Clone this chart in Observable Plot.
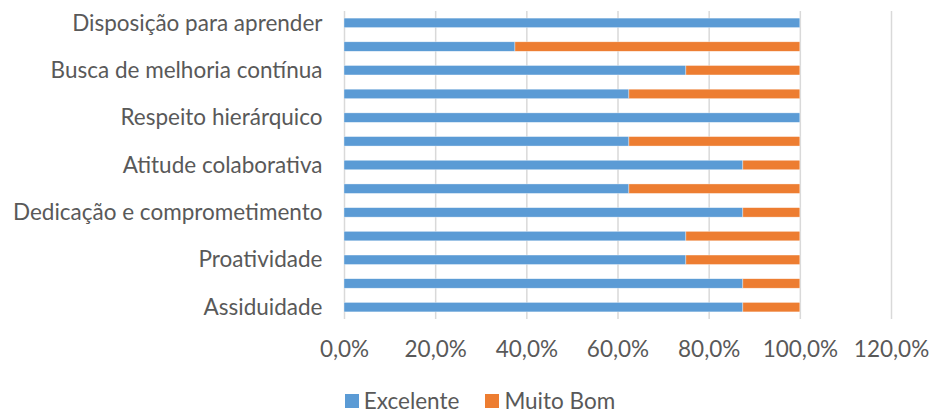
<!DOCTYPE html>
<html>
<head>
<meta charset="utf-8">
<script src="https://cdn.jsdelivr.net/npm/d3@7"></script>
<script src="https://cdn.jsdelivr.net/npm/@observablehq/plot@0.6"></script>
<style>
  html, body { margin: 0; padding: 0; background: #fff; }
  #wrap { position: relative; width: 932px; height: 414px; font-family: Lato, "Open Sans", sans-serif; color: #595959; overflow: hidden; }
  #legend { position: absolute; left: 0; width: 932px; top: 390px; display: flex; justify-content: center; align-items: center; font-size: 22.5px; line-height: 22px; padding-left: 28px; box-sizing: border-box; }
  .item { display: flex; align-items: center; margin: 0 13px; }
  .sw { width: 14px; height: 14px; margin-right: 5px; }
</style>
</head>
<body>
<div id="wrap"></div>
<script>
// Categories from bottom to top (Excel order); blank entries are rows whose labels are not shown
const categories = ["Assiduidade", "", "Proatividade", "", "Dedicação e comprometimento", "", "Atitude colaborativa", "", "Respeito hierárquico", "", "Busca de melhoria contínua", "", "Disposição para aprender"];
const excelente = [0.875, 0.875, 0.75, 0.75, 0.875, 0.625, 0.875, 0.625, 1.0, 0.625, 0.75, 0.375, 1.0];
const muitoBom  = [0.125, 0.125, 0.25, 0.25, 0.125, 0.375, 0.125, 0.375, 0.0, 0.375, 0.25, 0.625, 0.0];
const seriesNames = ["Excelente", "Muito Bom"];
const seriesColors = ["#5B9BD5", "#ED7D31"];
const xTicks = [0, 0.2, 0.4, 0.6, 0.8, 1.0, 1.2];

const rows = [];
categories.forEach((c, i) => {
  rows.push({idx: i, series: seriesNames[0], value: excelente[i]});
  rows.push({idx: i, series: seriesNames[1], value: muitoBom[i]});
});
const yDomain = d3.range(categories.length).reverse();
const fmt = d => (d * 100).toFixed(1).replace(".", ",") + "%";

const chart = Plot.plot({
  width: 932,
  height: 380,
  marginLeft: 344,
  marginRight: 41,
  marginTop: 11,
  marginBottom: 61,
  style: {fontFamily: "Lato, 'Open Sans', sans-serif", fontSize: "22.5px", color: "#595959", background: "#fff", overflow: "visible"},
  x: {domain: [0, 1.2], ticks: xTicks, tickFormat: fmt, tickSize: 0, tickPadding: 22, label: null},
  y: {domain: yDomain, padding: 0.6, paddingOuter: 0.3, round: false, tickSize: 0, tickPadding: 22, tickFormat: i => categories[i], label: null},
  color: {domain: seriesNames, range: seriesColors},
  marks: [
    Plot.ruleX(xTicks, {stroke: "#d9d9d9", strokeWidth: 1.5}),
    Plot.barX(rows, Plot.stackX({x: "value", y: "idx", fill: "series", order: seriesNames, stroke: "#fff", strokeWidth: 0.6, strokeOpacity: 0.6}))
  ]
});
const wrap = document.getElementById("wrap");
wrap.appendChild(chart);

const legend = document.createElement("div");
legend.id = "legend";
seriesNames.forEach((n, i) => {
  const it = document.createElement("div");
  it.className = "item";
  const sw = document.createElement("div");
  sw.className = "sw";
  sw.style.background = seriesColors[i];
  const t = document.createElement("span");
  t.textContent = n;
  it.appendChild(sw); it.appendChild(t);
  legend.appendChild(it);
});
wrap.appendChild(legend);
</script>
</body>
</html>
